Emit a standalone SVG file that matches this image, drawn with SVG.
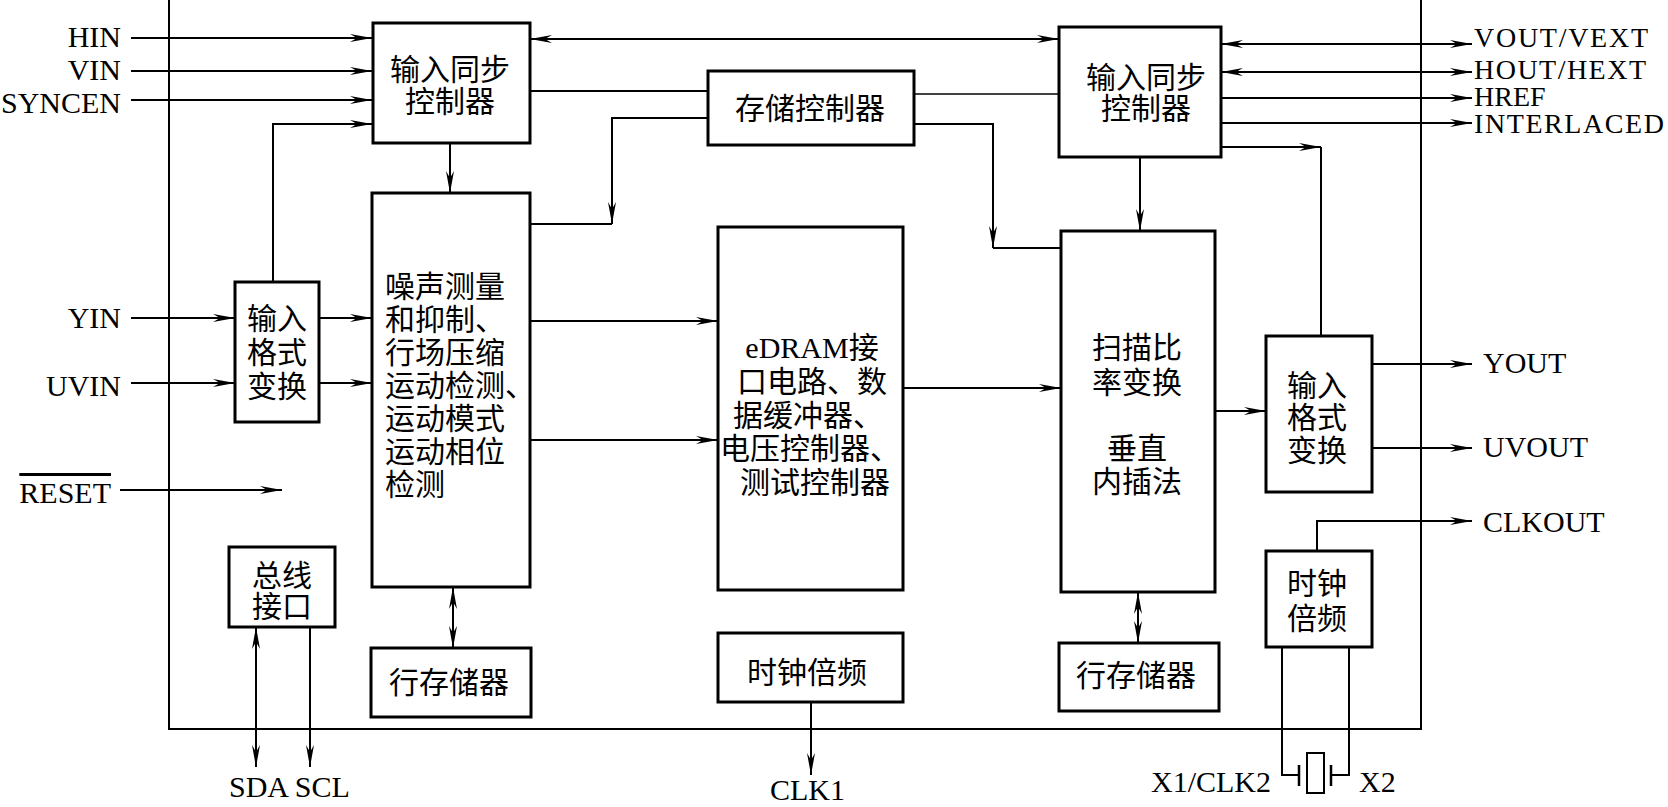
<svg xmlns="http://www.w3.org/2000/svg" width="1668" height="807" viewBox="0 0 1668 807">
<defs>
<marker id="arr" viewBox="-24 -5 26 10" refX="0" refY="0" markerWidth="26" markerHeight="10" markerUnits="userSpaceOnUse" orient="auto-start-reverse">
<path d="M0,0 L-22,-4 L-15,0 L-22,4 Z" fill="#000"/>
</marker>
</defs>
<style>
.box{fill:#fff;stroke:#000;stroke-width:3}
.ln{fill:none;stroke:#000;stroke-width:2}
.thin{fill:none;stroke:#000;stroke-width:1.5}
.t{font-family:"Liberation Serif","Noto Sans CJK SC",serif;font-size:30px;fill:#000}
.r{font-size:28px}
.c{text-anchor:middle}
.e{text-anchor:end}
</style>
<rect width="1668" height="807" fill="#fff"/>
<g id="chip"><path class="ln" d="M169,0 V729 H1421 V0"/></g>
<g id="connectors">
<path class="ln" d="M131,38 H372" marker-end="url(#arr)"/>
<path class="ln" d="M131,71 H372" marker-end="url(#arr)"/>
<path class="ln" d="M131,100 H372" marker-end="url(#arr)"/>
<path class="ln" d="M131,318 H235" marker-end="url(#arr)"/>
<path class="ln" d="M131,383 H235" marker-end="url(#arr)"/>
<path class="ln" d="M120,490 H282" marker-end="url(#arr)"/>
<path class="ln" d="M273,281 V124 H372" marker-end="url(#arr)"/>
<path class="ln" d="M319,318 H372" marker-end="url(#arr)"/>
<path class="ln" d="M319,383 H372" marker-end="url(#arr)"/>
<path class="ln" d="M450,143 V193" marker-end="url(#arr)"/>
<path class="ln" d="M530,39 H1059" marker-start="url(#arr)" marker-end="url(#arr)"/>
<path class="ln" d="M530,91 H708"/>
<path class="ln" d="M708,118 H612 V224" marker-end="url(#arr)"/>
<path class="ln" d="M612,224 H530"/>
<path class="ln" d="M530,321 H718" marker-end="url(#arr)"/>
<path class="ln" d="M530,440 H718" marker-end="url(#arr)"/>
<path class="thin" d="M914,94 H1059"/>
<path class="ln" d="M914,124 H993 V248" marker-end="url(#arr)"/>
<path class="ln" d="M993,248 H1061"/>
<path class="ln" d="M903,388 H1061" marker-end="url(#arr)"/>
<path class="ln" d="M1140,157 V231" marker-end="url(#arr)"/>
<path class="ln" d="M1221,44 H1472" marker-start="url(#arr)" marker-end="url(#arr)"/>
<path class="ln" d="M1221,72 H1472" marker-start="url(#arr)" marker-end="url(#arr)"/>
<path class="ln" d="M1221,98 H1472" marker-end="url(#arr)"/>
<path class="ln" d="M1221,123 H1472" marker-end="url(#arr)"/>
<path class="ln" d="M1221,147 H1321" marker-end="url(#arr)"/>
<path class="ln" d="M1321,147 V336"/>
<path class="ln" d="M1215,411 H1266" marker-end="url(#arr)"/>
<path class="ln" d="M1372,364 H1472" marker-end="url(#arr)"/>
<path class="ln" d="M1372,448 H1472" marker-end="url(#arr)"/>
<path class="ln" d="M1317,551 V521 H1472" marker-end="url(#arr)"/>
<path class="ln" d="M1138,592 V643" marker-start="url(#arr)" marker-end="url(#arr)"/>
<path class="ln" d="M453,587 V648" marker-start="url(#arr)" marker-end="url(#arr)"/>
<path class="ln" d="M256,627 V767" marker-start="url(#arr)" marker-end="url(#arr)"/>
<path class="ln" d="M310,627 V767" marker-end="url(#arr)"/>
<path class="ln" d="M811,702 V775" marker-end="url(#arr)"/>
<path class="ln" d="M1282,647 V775 H1299"/>
<path class="ln" d="M1349,647 V775 H1331"/>
</g>
<g id="crystal">
<path class="ln" style="stroke-width:2.5" d="M1299,765 V786 M1331,765 V786"/>
<rect x="1307" y="753" width="17" height="40" fill="#fff" stroke="#000" stroke-width="2"/>
</g>
<g id="sync_in">
<rect class="box" x="373" y="23" width="157" height="120"/>
<text class="t c" x="450" y="80">输入同步</text>
<text class="t c" x="450" y="112">控制器</text>
</g>
<g id="mem_ctrl">
<rect class="box" x="708" y="71" width="206" height="74"/>
<text class="t c" x="810" y="119">存储控制器</text>
</g>
<g id="sync_out">
<rect class="box" x="1059" y="27" width="162" height="130"/>
<text class="t c" x="1146" y="88">输入同步</text>
<text class="t c" x="1146" y="119">控制器</text>
</g>
<g id="fmt_in">
<rect class="box" x="235" y="282" width="84" height="140"/>
<text class="t c" x="277" y="329">输入</text>
<text class="t c" x="277" y="363">格式</text>
<text class="t c" x="277" y="397">变换</text>
</g>
<g id="noise">
<rect class="box" x="372" y="193" width="158" height="394"/>
<text class="t" x="385" y="297">噪声测量</text>
<text class="t" x="385" y="330">和抑制、</text>
<text class="t" x="385" y="363">行场压缩</text>
<text class="t" x="385" y="396">运动检测、</text>
<text class="t" x="385" y="429">运动模式</text>
<text class="t" x="385" y="462">运动相位</text>
<text class="t" x="385" y="495">检测</text>
</g>
<g id="edram">
<rect class="box" x="718" y="227" width="185" height="363"/>
<text class="t c" x="812" y="358">eDRAM接</text>
<text class="t c" x="812" y="392">口电路、数</text>
<text class="t c" x="808" y="426">据缓冲器、</text>
<text class="t c" x="810" y="459">电压控制器、</text>
<text class="t c" x="815" y="493">测试控制器</text>
</g>
<g id="scan">
<rect class="box" x="1061" y="231" width="154" height="361"/>
<text class="t c" x="1137" y="358">扫描比</text>
<text class="t c" x="1137" y="393">率变换</text>
<text class="t c" x="1137" y="459">垂直</text>
<text class="t c" x="1137" y="492">内插法</text>
</g>
<g id="fmt_out">
<rect class="box" x="1266" y="336" width="106" height="156"/>
<text class="t c" x="1317" y="396">输入</text>
<text class="t c" x="1317" y="428">格式</text>
<text class="t c" x="1317" y="461">变换</text>
</g>
<g id="bus">
<rect class="box" x="229" y="547" width="106" height="80"/>
<text class="t c" x="282" y="586">总线</text>
<text class="t c" x="282" y="617">接口</text>
</g>
<g id="linemem1">
<rect class="box" x="371" y="648" width="160" height="69"/>
<text class="t c" x="449" y="693">行存储器</text>
</g>
<g id="clk_center">
<rect class="box" x="718" y="633" width="185" height="69"/>
<text class="t c" x="807" y="683">时钟倍频</text>
</g>
<g id="linemem2">
<rect class="box" x="1059" y="643" width="160" height="68"/>
<text class="t c" x="1136" y="686">行存储器</text>
</g>
<g id="clk_right">
<rect class="box" x="1266" y="551" width="106" height="96"/>
<text class="t c" x="1317" y="594">时钟</text>
<text class="t c" x="1317" y="629">倍频</text>
</g>
<g id="labels">
<text class="t e" x="121" y="47">HIN</text>
<text class="t e" x="121" y="80">VIN</text>
<text class="t e" x="121" y="113">SYNCEN</text>
<text class="t e" x="121" y="328">YIN</text>
<text class="t e" x="121" y="396">UVIN</text>
<text class="t e" x="111" y="503" text-decoration="overline">RESET</text>
<text class="t r" x="1474" y="47" textLength="174">VOUT/VEXT</text>
<text class="t r" x="1474" y="79" textLength="172">HOUT/HEXT</text>
<text class="t r" x="1474" y="106">HREF</text>
<text class="t r" x="1474" y="133" textLength="190">INTERLACED</text>
<text class="t" x="1483" y="373">YOUT</text>
<text class="t" x="1483" y="457">UVOUT</text>
<text class="t" x="1483" y="532">CLKOUT</text>
<text class="t" x="229" y="797">SDA SCL</text>
<text class="t" x="770" y="800">CLK1</text>
<text class="t e" x="1271" y="792">X1/CLK2</text>
<text class="t" x="1359" y="792">X2</text>
</g>
</svg>
